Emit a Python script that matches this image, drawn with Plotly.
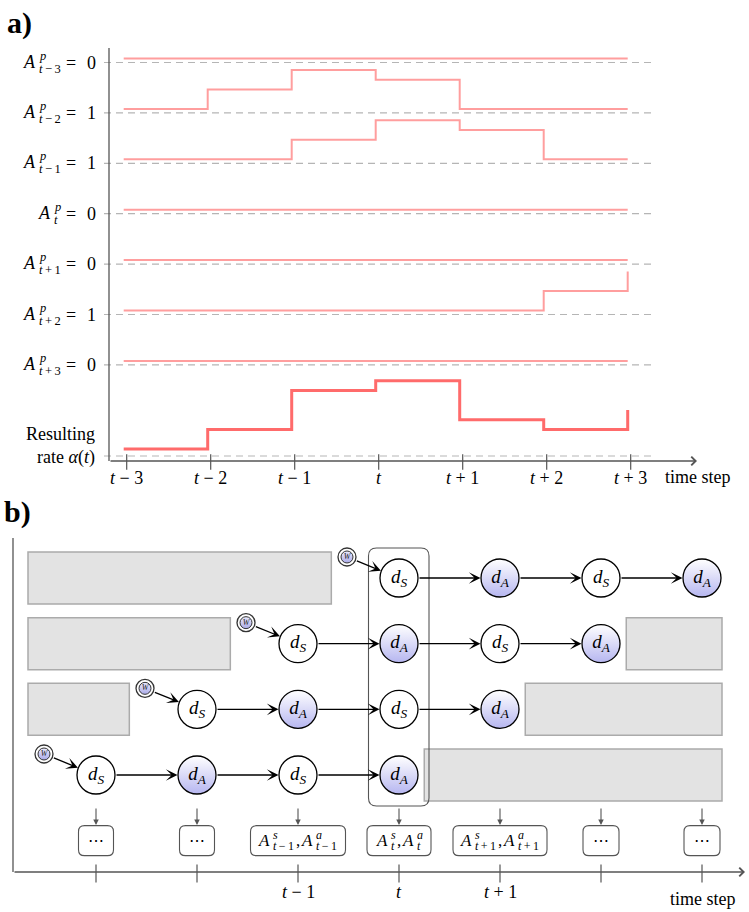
import plotly.graph_objects as go

# ================= DATA =================
# part a) : time steps, action labels and the contribution of each action to the rate
a_tick_labels = ["t − 3", "t − 2", "t − 1", "t", "t + 1", "t + 2", "t + 3"]
a_row_subs = ["t−3", "t−2", "t−1", "t", "t+1", "t+2", "t+3"]
a_row_values = [0, 1, 1, 0, 0, 1, 0]
# contribution (6 segments t-3..t+3 + value at the end)
contrib_tm3 = [0, 0, 0, 0, 0, 0, 0]
contrib_tm2 = [0, 0.5, 1.0, 0.75, 0, 0, 0]
contrib_tm1 = [0, 0, 0.5, 1.0, 0.75, 0, 0]
contrib_t0 = [0, 0, 0, 0, 0, 0, 0]
contrib_tp1 = [0, 0, 0, 0, 0, 0, 0]
contrib_tp2 = [0, 0, 0, 0, 0, 0.5, 1.0]
contrib_tp3 = [0, 0, 0, 0, 0, 0, 0]
resulting_rate = [0, 0.5, 1.5, 1.75, 0.75, 0.5, 1.0]

# part b) : dialogue chains (start column relative to t, node sequence)
b_chain_start = [0, -1, -2, -3]          # top chain to bottom chain
b_chain_nodes = ["S", "A", "S", "A"]
b_columns = [-3, -2, -1, 0, 1, 2, 3]
b_tick_labels = ["", "", "t − 1", "t", "t + 1", "", ""]
b_box_subs = ["", "", "t−1", "t", "t+1", "", ""]
b_highlight_col = 0

# ================= STYLE / LAYOUT =================
W, H = 749, 912
FONT = "Liberation Serif, DejaVu Serif, serif"
RED_LIGHT = "#ff9e9e"
RED_DARK = "#ff6b6b"
DASH_COL = "#b5b5b5"
AXIS_COL = "#555555"
GRAY_FILL = "#e3e3e3"
GRAY_LINE = "#ababab"
LAV_BOTTOM = "#b6b6f0"
THIN = "\u2009"

# part a pixel mapping
A_X0, A_DX, A_Y0 = 126.7, 84.0, 461.0
def axp(px): return (px - A_X0) / A_DX
def ayp(py): return A_Y0 - py
DASH_PX0, DASH_GAP, RATE_DASH_PX = 62.5, 50.4, 456.0
VAL_PX = 39.0
XS = -3.0 / A_DX

# part b pixel mapping
B_X0, B_DX, B_Y0, B_DY = 399.0, 101.0, 775.0, 65.67
def bx(px): return (px - B_X0) / B_DX
def by(py): return (B_Y0 - py) / B_DY
def bpx(c): return B_X0 + B_DX * c
def bpy(r): return B_Y0 - B_DY * r
BOX_W_PX = [35, 35, 95, 64, 94, 36, 36]

def fmt(s):
    return s.replace("t", "<i>t</i>")

def fmt_sub(s):
    s = s.replace("−", THIN + "−" + THIN).replace("+", THIN + "+" + THIN)
    return fmt(s)

fig = go.Figure()
ann = []

def text_ann(x, y, text, size, xanchor="center", yanchor="middle", xref="x", yref="y",
             yshift=0, xshift=0, color="black", align="center"):
    ann.append(dict(x=x, y=y, xref=xref, yref=yref, text=text, showarrow=False,
                    xanchor=xanchor, yanchor=yanchor, yshift=yshift, xshift=xshift,
                    align=align, font=dict(family=FONT, size=size, color=color)))

def arrow(xh, yh, xt, yt, xref, yref, color, width, head, size):
    ann.append(dict(x=xh, y=yh, ax=xt, ay=yt, xref=xref, yref=yref, axref=xref, ayref=yref,
                    text="", showarrow=True, arrowhead=head, arrowsize=size,
                    arrowwidth=width, arrowcolor=color, standoff=0, startstandoff=0))

# ================= PART a =================
rows = [contrib_tm3, contrib_tm2, contrib_tm1, contrib_t0, contrib_tp1, contrib_tp2, contrib_tp3]
dash_px = [DASH_PX0 + DASH_GAP * i for i in range(len(rows))] + [RATE_DASH_PX]

dx, dy = [], []
for p in dash_px:
    dx += [axp(104), axp(653), None]
    dy += [ayp(p), ayp(p), None]
fig.add_trace(go.Scatter(x=dx, y=dy, mode="lines",
                         line=dict(color=DASH_COL, width=1.2, dash="7px,5px"), hoverinfo="skip"))

xs = [i + XS for i in range(len(a_tick_labels))]
for i, c in enumerate(rows):
    base = ayp(dash_px[i]) + 4
    fig.add_trace(go.Scatter(x=xs, y=[base + VAL_PX * v for v in c], mode="lines",
                             line=dict(color=RED_LIGHT, width=2, shape="hv"), hoverinfo="skip"))
base = ayp(RATE_DASH_PX) + 7
fig.add_trace(go.Scatter(x=xs, y=[base + VAL_PX * v for v in resulting_rate], mode="lines",
                         line=dict(color=RED_DARK, width=3, shape="hv"), hoverinfo="skip"))

# axes of a
fig.add_trace(go.Scatter(x=[axp(109), axp(109)], y=[ayp(48), ayp(461)], mode="lines",
                         line=dict(color=AXIS_COL, width=1.3), hoverinfo="skip"))
arrow(axp(697), 0, axp(109), 0, "x", "y", AXIS_COL, 1.3, 4, 1.3)
fig.add_trace(go.Scatter(x=list(range(len(a_tick_labels))), y=[ayp(462)] * len(a_tick_labels),
                         mode="markers", cliponaxis=False, hoverinfo="skip",
                         marker=dict(symbol="line-ns-open", size=11, color=AXIS_COL,
                                     line=dict(color=AXIS_COL, width=1.2))))
for i, lab in enumerate(a_tick_labels):
    text_ann(i, ayp(478), fmt(lab), 18)
text_ann(axp(697.5), ayp(477), "time step", 18)

# y labels of a
for i, (sub, val) in enumerate(zip(a_row_subs, a_row_values)):
    yd = ayp(dash_px[i])
    a_right = 38 if len(sub) > 1 else 53
    text_ann(axp(a_right), yd, "<i>A</i>", 18, xanchor="right", yshift=1)
    text_ann(axp(a_right - 1), yd, "<i>p</i>", 12.5, xanchor="left", yshift=7)
    text_ann(axp(a_right - 1), yd, fmt_sub(sub), 12.5, xanchor="left", yshift=-6)
    text_ann(axp(71), yd, "=", 18)
    text_ann(axp(91.5), yd, f"{val}", 18)
text_ann(axp(97), ayp(446), "Resulting<br>rate <i>α</i>(<i>t</i>)", 18, xanchor="right",
         align="right")

text_ann(19 / W, 1 - 23 / H, "<b>a)</b>", 30, xref="paper", yref="paper")
text_ann(17 / W, 1 - 512 / H, "<b>b)</b>", 30, xref="paper", yref="paper")

# ================= PART b =================
shapes = []
R = 19.0
n_rows = len(b_chain_start)
left_edge, right_edge = bx(28), bx(722)
for k, start in enumerate(b_chain_start):
    r = n_rows - 1 - k
    end = start + len(b_chain_nodes) - 1
    hh = 26 / B_DY
    if start - 0.67 > left_edge + 0.05:
        shapes.append(dict(type="rect", xref="x2", yref="y2", x0=left_edge, x1=start - 0.67,
                           y0=r - hh, y1=r + hh, fillcolor=GRAY_FILL,
                           line=dict(color=GRAY_LINE, width=1.5), layer="below"))
    if end + 0.25 < right_edge - 0.05:
        shapes.append(dict(type="rect", xref="x2", yref="y2", x0=end + 0.25, x1=right_edge,
                           y0=r - hh, y1=r + hh, fillcolor=GRAY_FILL,
                           line=dict(color=GRAY_LINE, width=1.5), layer="below"))

def rrect_path(x0, x1, y0, y1, rpx):
    rx, ry = rpx / B_DX, rpx / B_DY
    return (f"M {x0+rx},{y0} L {x1-rx},{y0} Q {x1},{y0} {x1},{y0+ry} "
            f"L {x1},{y1-ry} Q {x1},{y1} {x1-rx},{y1} L {x0+rx},{y1} "
            f"Q {x0},{y1} {x0},{y1-ry} L {x0},{y0+ry} Q {x0},{y0} {x0+rx},{y0} Z")

# highlight box around column t
shapes.append(dict(type="path", xref="x2", yref="y2",
                   path=rrect_path(b_highlight_col - 30.5 / B_DX, b_highlight_col + 30 / B_DX,
                                   -31 / B_DY, (n_rows - 1) + 30 / B_DY, 8),
                   line=dict(color=AXIS_COL, width=1.1), fillcolor="rgba(0,0,0,0)", layer="below"))

# bottom boxes
for i, c in enumerate(b_columns):
    hw = BOX_W_PX[i] / 2 / B_DX
    hh = 15 / B_DY
    shapes.append(dict(type="path", xref="x2", yref="y2",
                       path=rrect_path(c - hw, c + hw, -1 - hh, -1 + hh, 6),
                       line=dict(color=AXIS_COL, width=1.1), fillcolor="white", layer="below"))

# nodes
sx, sy, ax_, ay_ = [], [], [], []
wxs, wys = [], []
for k, start in enumerate(b_chain_start):
    r = n_rows - 1 - k
    for j, t in enumerate(b_chain_nodes):
        c = start + j
        (sx if t == "S" else ax_).append(c)
        (sy if t == "S" else ay_).append(r)
        if j < len(b_chain_nodes) - 1:
            arrow(c + 1 - (R + 0.5) / B_DX, r, c + R / B_DX, r, "x2", "y2", "black", 1.3, 3, 1.5)
    # W node and its arrow
    px_s, py_s = bpx(start), bpy(r)
    px_w, py_w = px_s - 52, py_s - 21
    wxs.append(bx(px_w)); wys.append(by(py_w))
    L = ((px_s - px_w) ** 2 + (py_s - py_w) ** 2) ** 0.5
    ux, uy = (px_s - px_w) / L, (py_s - py_w) / L
    arrow(bx(px_s - (R + 0.5) * ux), by(py_s - (R + 0.5) * uy),
          bx(px_w + 9 * ux), by(py_w + 9 * uy), "x2", "y2", "black", 1.3, 3, 1.5)

fig.add_trace(go.Scatter(x=sx, y=sy, xaxis="x2", yaxis="y2", mode="markers+text",
                         text=["<i>d</i><sub><i>S</i></sub>"] * len(sx),
                         textfont=dict(family=FONT, size=19, color="black"),
                         marker=dict(size=38, color="white", line=dict(color="black", width=1.3)),
                         hoverinfo="skip", cliponaxis=False))
fig.add_trace(go.Scatter(x=ax_, y=ay_, xaxis="x2", yaxis="y2", mode="markers+text",
                         text=["<i>d</i><sub><i>A</i></sub>"] * len(ax_),
                         textfont=dict(family=FONT, size=19, color="black"),
                         marker=dict(size=38, color="white",
                                     gradient=dict(type="vertical", color=LAV_BOTTOM),
                                     line=dict(color="black", width=1.3)),
                         hoverinfo="skip", cliponaxis=False))
fig.add_trace(go.Scatter(x=wxs, y=wys, xaxis="x2", yaxis="y2", mode="markers",
                         marker=dict(size=18, color="white", line=dict(color="#333333", width=1.3)),
                         hoverinfo="skip", cliponaxis=False))
fig.add_trace(go.Scatter(x=wxs, y=wys, xaxis="x2", yaxis="y2", mode="markers+text",
                         text=["<i>W</i>"] * len(wxs),
                         textfont=dict(family=FONT, size=8, color="#222"),
                         marker=dict(size=12, color="#ececff",
                                     gradient=dict(type="vertical", color="#a9a9e6"),
                                     line=dict(color="#333333", width=1)),
                         hoverinfo="skip", cliponaxis=False))

# down arrows and box labels
CW = {"t": 0.28, "−": 0.56, "+": 0.56, " ": 0.25, THIN: 0.2}
def tw(s, size):
    return sum(CW.get(ch, 0.5) for ch in s) * size
for i, c in enumerate(b_columns):
    arrow(c, by(825), c, by(807), "x2", "y2", AXIS_COL, 1.1, 2, 1.0)
    sub = b_box_subs[i]
    if not sub:
        text_ann(c, -1, "⋯", 16, xref="x2", yref="y2")
        continue
    sub_t = sub.replace("−", THIN + "−" + THIN).replace("+", THIN + "+" + THIN)
    wA, ws, wc = 11.0, tw(sub_t, 12), 11.0
    total = 2 * (wA + ws) + wc
    left = bpx(c) - total / 2
    x = left
    for k2, sup in enumerate(["s", "a"]):
        text_ann(bx(x + wA), -1, "<i>A</i>", 17, xanchor="right", xref="x2", yref="y2")
        text_ann(bx(x + wA - 1), -1, f"<i>{sup}</i>", 12, xanchor="left", xref="x2",
                 yref="y2", yshift=6)
        text_ann(bx(x + wA - 1), -1, fmt_sub(sub), 12, xanchor="left", xref="x2",
                 yref="y2", yshift=-5)
        x += wA + ws
        if k2 == 0:
            text_ann(bx(x + 1.5), -1, ",", 17, xanchor="left", xref="x2", yref="y2")
            x += wc

# axes of b
fig.add_trace(go.Scatter(x=[bx(13), bx(13)], y=[by(538), by(872)], xaxis="x2", yaxis="y2",
                         mode="lines", line=dict(color=AXIS_COL, width=1.3), hoverinfo="skip"))
arrow(bx(745), by(872), bx(13), by(872), "x2", "y2", AXIS_COL, 1.3, 4, 1.3)
fig.add_trace(go.Scatter(x=b_columns, y=[by(873.5)] * len(b_columns), xaxis="x2", yaxis="y2",
                         mode="markers", cliponaxis=False, hoverinfo="skip",
                         marker=dict(symbol="line-ns-open", size=13, color=AXIS_COL,
                                     line=dict(color=AXIS_COL, width=1.2))))
for c, lab in zip(b_columns, b_tick_labels):
    if lab:
        text_ann(c, by(892), fmt(lab), 18, xref="x2", yref="y2")
text_ann(bx(702.5), by(899), "time step", 18, xref="x2", yref="y2")

fig.update_layout(
    width=W, height=H, margin=dict(l=0, r=0, t=0, b=0),
    paper_bgcolor="white", plot_bgcolor="white", showlegend=False,
    xaxis=dict(domain=[0, 1], range=[axp(0), axp(W)], visible=False),
    yaxis=dict(domain=[1 - 490 / H, 1 - 30 / H], range=[ayp(490), ayp(30)], visible=False),
    xaxis2=dict(domain=[0, 1], range=[bx(0), bx(W)], anchor="y2", visible=False),
    yaxis2=dict(domain=[0, 1 - 500 / H], range=[by(912), by(500)], anchor="x2", visible=False),
    shapes=shapes, annotations=ann,
)
fig.write_html("out.html")
